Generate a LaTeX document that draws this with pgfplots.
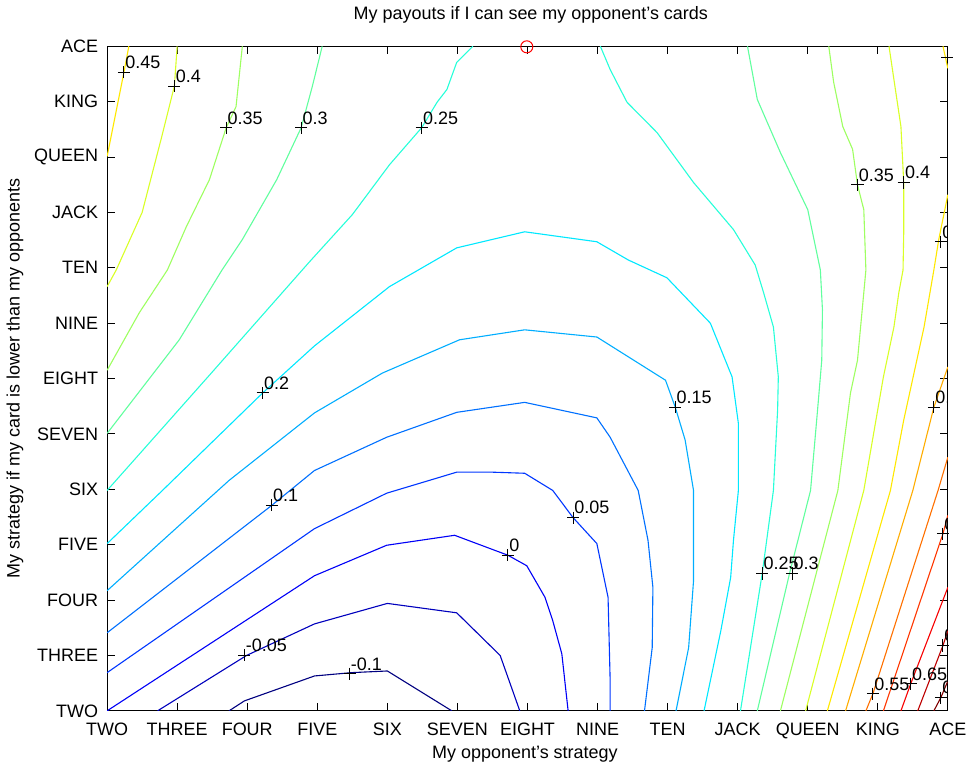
\documentclass[border=0pt]{standalone}
\usepackage{pgfplots}
\pgfplotsset{compat=1.18}
\usepackage{fontspec}
\setmainfont{Liberation Sans}

% jet colours for the contour levels -0.1 ... 0.75
\definecolor{lvm10}{rgb}{0,0,0.5}
\definecolor{lvm05}{rgb}{0,0,0.74}
\definecolor{lv00}{rgb}{0,0,0.97}
\definecolor{lv05}{rgb}{0,0.21,1}
\definecolor{lv10}{rgb}{0,0.44,1}
\definecolor{lv15}{rgb}{0,0.68,1}
\definecolor{lv20}{rgb}{0,0.91,1}
\definecolor{lv25}{rgb}{0.15,1,0.85}
\definecolor{lv30}{rgb}{0.38,1,0.62}
\definecolor{lv35}{rgb}{0.62,1,0.38}
\definecolor{lv40}{rgb}{0.85,1,0.15}
\definecolor{lv45}{rgb}{1,0.91,0}
\definecolor{lv50}{rgb}{1,0.68,0}
\definecolor{lv55}{rgb}{1,0.44,0}
\definecolor{lv60}{rgb}{1,0.21,0}
\definecolor{lv65}{rgb}{0.97,0,0}
\definecolor{lv70}{rgb}{0.74,0,0}
\definecolor{lv75}{rgb}{0.5,0,0}

\pgfplotsset{
  every axis/.append style={font=\fontsize{9}{11}\selectfont},
  cl/.style={line width=0.55bp},
}
% contour label: "+" at the point, value to its upper right
\newcommand{\clab}[3]{%
  \addplot[black, only marks, mark=+, mark size=3bp, mark options={line width=0.5bp}]
    coordinates {(#1,#2)} node[anchor=south west, inner xsep=0.5bp, inner ysep=1.5bp] {#3};}

\begin{document}
\begin{tikzpicture}
\begin{axis}[
    width=419.5bp, height=331.6bp, scale only axis,
    xmin=0, xmax=12, ymin=0, ymax=12,
    xtick={0,...,12}, ytick={0,...,12},
    xticklabels={TWO,THREE,FOUR,FIVE,SIX,SEVEN,EIGHT,NINE,TEN,JACK,QUEEN,KING,ACE},
    yticklabels={TWO,THREE,FOUR,FIVE,SIX,SEVEN,EIGHT,NINE,TEN,JACK,QUEEN,KING,ACE},
    tick align=inside, major tick length=3.8bp,
    every tick/.style={black, line width=0.5bp},
    axis line style={line width=0.5bp},
    xticklabel style={yshift=-2.5bp},
    yticklabel style={xshift=-1bp},
    title={My payouts if I can see my opponent's cards},
    title style={at={(axis description cs:0.504,1.022)}, anchor=base},
    xlabel={My opponent's strategy},
    xlabel style={at={(axis description cs:0.497,-0.071)}, anchor=base},
    ylabel={My strategy if my card is lower than my opponents},
    ylabel style={at={(axis description cs:-0.104,0.5)}, anchor=base},
  ]
  % -0.1
  \addplot[cl, lvm10] coordinates {(1.74,0) (1.96,0.18) (2.96,0.63) (3.49,0.69) (4.00,0.72) (4.92,0)};
  % -0.05
  \addplot[cl, lvm05] coordinates {(0.72,0) (1.99,1.00) (2.96,1.57) (4.00,1.94) (4.99,1.77) (5.61,1.00) (5.89,0)};
  % 0
  \addplot[cl, lv00] coordinates {(0,0) (2.96,2.44) (3.99,2.99) (4.96,3.17) (5.72,2.81) (5.99,2.62) (6.25,2.05) (6.36,1.63) (6.49,1.03) (6.58,0)};
  % 0.05
  \addplot[cl, lv05] coordinates {(0,0.69) (2.96,3.29) (3.99,3.93) (4.99,4.31) (5.49,4.31) (5.96,4.29) (6.36,3.98) (6.65,3.49) (6.99,3.02) (7.15,2.05) (7.18,0.54) (7.18,0)};
  % 0.1
  \addplot[cl, lv10] coordinates {(0,1.41) (2.35,3.71) (2.96,4.34) (3.99,4.94) (4.99,5.39) (5.96,5.57) (6.99,5.29) (7.18,4.94) (7.58,3.98) (7.72,3.08) (7.79,2.23) (7.78,1.14) (7.67,0)};
  % 0.15
  \addplot[cl, lv15] coordinates {(0,2.17) (1.74,4.16) (2.96,5.38) (3.93,6.10) (5.03,6.70) (5.96,6.88) (6.99,6.75) (7.97,5.97) (8.11,5.48) (8.25,4.89) (8.37,3.98) (8.37,2.35) (8.30,1.14) (8.12,0)};
  % 0.2
  \addplot[cl, lv20] coordinates {(0,3.02) (0.79,3.98) (2.22,5.74) (2.96,6.59) (4.03,7.66) (4.99,8.36) (5.96,8.65) (6.99,8.47) (7.44,8.14) (7.99,7.82) (8.61,7.00) (8.92,6.03) (9.01,5.19) (9.01,3.98) (8.94,3.08) (8.90,2.41) (8.76,1.45) (8.52,0)};
  % 0.25
  \addplot[cl, lv25] coordinates {(0,3.98) (1.46,6.06) (2.89,8.11) (3.50,8.96) (4.03,9.86) (4.49,10.53) (4.71,10.99) (4.85,11.22) (4.99,11.71) (5.22,12)};
  \addplot[cl, lv25] coordinates {(7.04,12) (7.18,11.58) (7.42,10.99) (7.85,10.44) (8.37,9.54) (8.94,8.69) (9.25,8.05) (9.37,7.55) (9.51,6.93) (9.58,6.03) (9.57,5.43) (9.51,3.98) (9.35,2.48) (9.04,0)};
  % 0.3
  \addplot[cl, lv30] coordinates {(3.07,12) (2.93,11.28) (2.77,10.53) (2.42,9.59) (1.93,8.51) (1.64,7.96) (1.03,6.70) (0,5.01)};
  \addplot[cl, lv30] coordinates {(9.14,12) (9.28,11.04) (9.61,10.08) (10.00,9.05) (10.18,7.96) (10.21,7.24) (10.20,6.33) (10.14,5.43) (10.04,3.98) (9.74,2.48) (9.28,0)};
  % 0.35
  \addplot[cl, lv35] coordinates {(1.93,12) (1.84,10.91) (1.70,10.53) (1.46,9.59) (1.13,8.74) (0.86,7.96) (0.46,7.19) (0,6.15)};
  \addplot[cl, lv35] coordinates {(10.30,12) (10.37,11.35) (10.50,10.55) (10.64,10.14) (10.71,9.50) (10.80,9.05) (10.83,7.96) (10.80,7.55) (10.71,6.33) (10.61,5.74) (10.43,3.98) (9.61,0)};
  % 0.4
  \addplot[cl, lv40] coordinates {(1.00,12) (0.96,11.28) (0.77,10.32) (0.50,9.00) (0.13,7.96) (0,7.66)};
  \addplot[cl, lv40] coordinates {(11.16,12) (11.23,11.40) (11.33,10.55) (11.37,9.54) (11.37,8.63) (11.36,7.96) (11.30,7.55) (11.23,6.93) (11.08,6.03) (10.80,3.98) (9.97,0)};
  % 0.45
  \addplot[cl, lv45] coordinates {(0.31,12) (0.24,11.53) (0,10.01)};
  \addplot[cl, lv45] coordinates {(12,9.32) (11.87,8.51) (11.80,7.96) (11.66,6.93) (11.37,5.25) (11.18,3.98) (10.28,0)};
  \addplot[cl, lv45] coordinates {(11.93,12) (12,11.6)};
  % 0.5 ... 0.75
  \addplot[cl, lv50] coordinates {(12,6.21) (11.80,5.48) (11.50,3.98) (10.54,0)};
  \addplot[cl, lv55] coordinates {(12,4.58) (11.86,3.98) (10.93,0.31) (10.83,0)};
  \addplot[cl, lv60] coordinates {(12,3.53) (11.93,3.20) (11.08,0)};
  \addplot[cl, lv65] coordinates {(12,2.23) (11.47,0.49) (11.33,0)};
  \addplot[cl, lv70] coordinates {(12,1.45) (11.93,1.18) (11.57,0)};
  \addplot[cl, lv75] coordinates {(12,0.54) (11.90,0.24) (11.80,0)};

  % contour labels
  \clab{3.46}{0.67}{-0.1}
  \clab{1.96}{1.00}{-0.05}
  \clab{5.72}{2.81}{0}
  \clab{6.65}{3.49}{0.05}
  \clab{2.35}{3.71}{0.1}
  \clab{8.11}{5.48}{0.15}
  \clab{2.22}{5.74}{0.2}
  \clab{4.49}{10.53}{0.25}
  \clab{9.35}{2.48}{0.25}
  \clab{2.77}{10.53}{0.3}
  \clab{9.78}{2.48}{0.3}
  \clab{1.70}{10.53}{0.35}
  \clab{10.71}{9.50}{0.35}
  \clab{0.96}{11.28}{0.4}
  \clab{11.37}{9.54}{0.4}
  \clab{0.24}{11.53}{0.45}
  \clab{11.99}{11.80}{0.45}
  \clab{11.90}{8.47}{0.45}
  \clab{11.80}{5.48}{0.5}
  \clab{10.93}{0.31}{0.55}
  \clab{11.93}{3.20}{0.6}
  \clab{11.47}{0.49}{0.65}
  \clab{11.93}{1.18}{0.7}
  \clab{11.90}{0.24}{0.75}

  % marked point at the top edge
  \addplot[red, only marks, mark=o, mark size=3bp, mark options={line width=0.5bp}] coordinates {(5.99,11.99)};
\end{axis}
\end{tikzpicture}
\end{document}
